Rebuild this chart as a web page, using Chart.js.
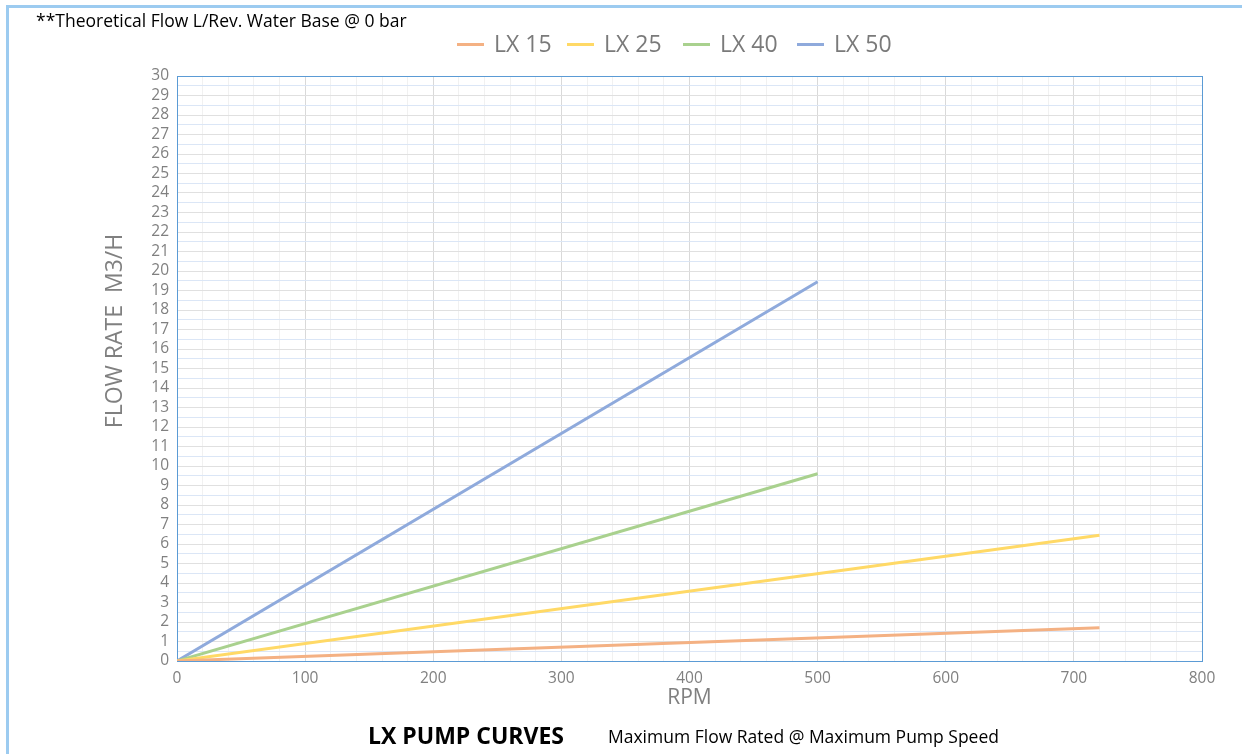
<!DOCTYPE html>
<html>
<head>
<meta charset="utf-8">
<script src="https://cdn.jsdelivr.net/npm/chart.js@4.4.1/dist/chart.umd.min.js"></script>
<style>
  html, body { margin: 0; padding: 0; background: #ffffff; }
  #c { display: block; }
</style>
</head>
<body>
<canvas id="c" width="1242" height="754"></canvas>
<script>
// ---- data ----
const seriesNames = ['LX 15', 'LX 25', 'LX 40', 'LX 50'];
const rpmLX15 = [0, 720];
const flowLX15 = [0, 1.7];
const rpmLX25 = [0, 720];
const flowLX25 = [0, 6.45];
const rpmLX40 = [0, 500];
const flowLX40 = [0, 9.6];
const rpmLX50 = [0, 500];
const flowLX50 = [0, 19.45];
const seriesColors = ['#f4b183', '#ffd966', '#a9d18e', '#8faadc'];
const xTickLabels = [0, 100, 200, 300, 400, 500, 600, 700, 800];
const yTickLabels = Array.from({length: 31}, (_, i) => i);

const noteText = '**Theoretical Flow L/Rev. Water Base @ 0 bar';
const yTitle = 'FLOW RATE  M3/H';
const xTitle = 'RPM';
const footBold = 'LX PUMP CURVES';
const footText = 'Maximum Flow Rated @ Maximum Pump Speed';

const FONT = '"Open Sans", "Noto Sans", sans-serif';

function pts(xs, ys) { return xs.map((x, i) => ({x: x, y: ys[i]})); }
const allX = [rpmLX15, rpmLX25, rpmLX40, rpmLX50];
const allY = [flowLX15, flowLX25, flowLX40, flowLX50];

const datasets = seriesNames.map((n, i) => ({
  label: n,
  data: pts(allX[i], allY[i]),
  borderColor: seriesColors[i],
  backgroundColor: seriesColors[i],
  borderWidth: 3,
  pointRadius: 0,
  tension: 0,
  fill: false
}));

const decor = {
  id: 'decor',
  beforeDatasetsDraw(chart) {
    const {ctx, chartArea: a} = chart;
    ctx.save();
    ctx.strokeStyle = '#5b9bd5';
    ctx.lineWidth = 1;
    ctx.strokeRect(a.left + 0.5, a.top + 0.5, a.right - a.left, a.bottom - a.top);
    ctx.restore();
  },
  afterDraw(chart) {
    const {ctx, chartArea: a} = chart;
    ctx.save();
    // outer frame
    ctx.strokeStyle = '#9ccbf0';
    ctx.lineWidth = 3;
    ctx.strokeRect(7.5, 6.5, 1400, 1000);
    // note top-left
    ctx.fillStyle = '#000000';
    ctx.font = '17.5px ' + FONT;
    ctx.textBaseline = 'middle';
    ctx.textAlign = 'left';
    ctx.fillText(noteText, 36, 22);
    // legend
    ctx.font = '23px ' + FONT;
    const legX = [457, 567, 683, 797];
    seriesNames.forEach((n, i) => {
      ctx.strokeStyle = seriesColors[i];
      ctx.lineWidth = 3;
      ctx.beginPath();
      ctx.moveTo(legX[i], 44.5);
      ctx.lineTo(legX[i] + 27, 44.5);
      ctx.stroke();
      ctx.fillStyle = '#7a7a7a';
      ctx.fillText(n, legX[i] + 37, 45);
    });
    // y title
    ctx.save();
    ctx.translate(115, 331);
    ctx.rotate(-Math.PI / 2);
    ctx.textAlign = 'center';
    ctx.fillStyle = '#808080';
    ctx.font = '23px ' + FONT;
    ctx.fillText(yTitle, 0, 0);
    ctx.restore();
    // x title
    ctx.textAlign = 'center';
    ctx.fillStyle = '#808080';
    ctx.font = '21px ' + FONT;
    ctx.fillText(xTitle, (a.left + a.right) / 2, 698);
    // footer
    ctx.textAlign = 'left';
    ctx.fillStyle = '#000000';
    ctx.font = 'bold 23px ' + FONT;
    ctx.fillText(footBold, 368, 737);
    ctx.font = '17.5px ' + FONT;
    ctx.fillText(footText, 608, 738);
    ctx.restore();
  }
};

new Chart(document.getElementById('c'), {
  type: 'line',
  data: { datasets: datasets },
  options: {
    responsive: false,
    devicePixelRatio: 1,
    animation: false,
    layout: { padding: { top: 76, right: 40, left: 0, bottom: 0 } },
    plugins: { legend: { display: false }, title: { display: false }, tooltip: { enabled: false } },
    scales: {
      x: {
        type: 'linear',
        min: 0, max: 800,
        afterFit(s) { s.height = 93; },
        ticks: {
          stepSize: 20, autoSkip: false, maxRotation: 0, padding: 8,
          color: '#808080', font: { family: FONT, size: 15.5 },
          callback: v => xTickLabels.includes(v) ? String(v) : ''
        },
        grid: {
          drawTicks: false,
          color: c => (c.tick && c.tick.value % 100 === 0) ? '#d9d9d9' : '#f1f1f1',
          lineWidth: 1
        },
        border: { display: false }
      },
      y: {
        type: 'linear',
        min: 0, max: 30,
        afterFit(s) { s.width = 177; },
        ticks: {
          stepSize: 0.5, autoSkip: false, padding: 8,
          color: '#808080', font: { family: FONT, size: 15.5 },
          callback: v => yTickLabels.includes(v) ? String(v) : ''
        },
        grid: {
          drawTicks: false,
          color: c => (c.tick && Number.isInteger(c.tick.value)) ? '#e0e0e0' : '#dbe6f6',
          lineWidth: 1
        },
        border: { display: false }
      }
    }
  },
  plugins: [decor]
});
</script>
</body>
</html>
